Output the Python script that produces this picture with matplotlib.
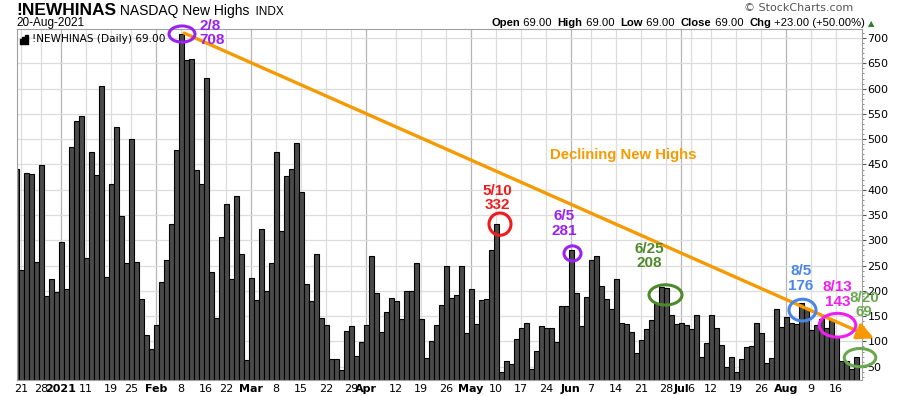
import numpy as np
import pandas as pd
import matplotlib
matplotlib.use('Agg')
import matplotlib.pyplot as plt
from matplotlib.patches import Ellipse, Rectangle

# NASDAQ new highs, daily values (Dec 18 2020 - Aug 20 2021)
dec = [442, 241, 433, 431, 258, 448, 189, 223, 197]
jan = [296, 203, 484, 537, 545, 266, 474, 429, 606, 227, 411, 524, 349, 256,
       500, 258, 183, 112, 86]
feb = [132, 217, 262, 332, 478, 708, 656, 658, 440, 411, 621, 237, 146, 306,
       371, 223, 387, 272, 63]
mar = [226, 181, 322, 199, 256, 474, 319, 427, 441, 492, 395, 213, 179, 272,
       146, 132, 66, 66, 43, 120, 130, 72, 98]
apr = [132, 268, 195, 118, 159, 185, 179, 144, 199, 199, 256, 144, 68, 100,
       132, 173, 249, 185, 191, 249, 116]
may = [203, 134, 181, 183, 281, 332, 39, 61, 55, 104, 126, 136, 45, 82, 130,
       126, 126, 98, 171, 171]
jun = [281, 195, 130, 187, 262, 268, 209, 183, 165, 223, 136, 134, 118, 78,
       102, 124, 142, 175, 208, 205, 153, 135]
jul = [137, 132, 125, 153, 70, 97, 153, 127, 93, 50, 69, 40, 65, 89, 91, 137,
       116, 58, 68, 165, 128]
aug = [148, 136, 134, 176, 166, 122, 132, 144, 126, 143, 110, 62, 62, 46, 69]

holidays = ['2020-12-25', '2021-01-01', '2021-01-18', '2021-02-15',
            '2021-04-02', '2021-05-31', '2021-07-05']

# call-outs: (date, text, color)
callouts = [('2021-02-08', '2/8\n708', '#9b22ee'),
            ('2021-05-10', '5/10\n332', '#ee1c1c'),
            ('2021-06-01', '6/5\n281', '#9b22ee'),
            ('2021-06-25', '6/25\n208', '#4e8a2c'),
            ('2021-08-05', '8/5\n176', '#4a86e8'),
            ('2021-08-13', '8/13\n143', '#f01ef0'),
            ('2021-08-20', '8/20\n69', '#6aa84f')]

values = np.array(dec + jan + feb + mar + apr + may + jun + jul + aug)
dates = pd.bdate_range('2020-12-18', '2021-08-20', freq='C',
                       holidays=holidays)
x = np.arange(len(dates))

fig = plt.figure(figsize=(9, 3.96), dpi=100)
ax = fig.add_axes([17 / 900, 16 / 396, 845 / 900, 351 / 396])

# tick positions: week starts and month starts
ticks, labels, bold, month_lines = [], [], [], []
for i in range(1, len(dates)):
    d, p = dates[i], dates[i - 1]
    if d.month != p.month:
        month_lines.append(i)
        ticks.append(i)
        labels.append(str(d.year) if d.month == 1 else d.strftime('%b'))
        bold.append(True)
    elif d.weekday() < p.weekday():
        if month_lines and i - month_lines[-1] < 2:
            continue
        ticks.append(i)
        labels.append(str(d.day))
        bold.append(False)

for t in ticks:
    ax.axvline(t, color='#b5b5b5' if t in month_lines else '#dcdcdc',
               lw=0.9, zorder=0)
for v in range(50, 701, 50):
    ax.axhline(v, color='#dcdcdc', lw=0.9, zorder=0)

ax.bar(x, values, width=1.0, color='#4a4a4a', edgecolor='black',
       linewidth=0.8, zorder=2)

ax.set_xlim(0.2, 169.2)
ax.set_ylim(23.7, 718)
ax.yaxis.tick_right()
ax.set_yticks(range(50, 701, 50))
ax.set_yticks(range(30, 711, 10), minor=True)
ax.tick_params(axis='y', which='major', length=3, labelsize=8, pad=1,
               colors='#555555', labelcolor='black')
ax.tick_params(axis='y', which='minor', length=1.5, colors='#777777')
ax.set_xticks(ticks)
ax.set_xticklabels(labels, fontsize=8)
for lab, b in zip(ax.get_xticklabels(), bold):
    if b:
        lab.set_fontweight('bold')
ax.tick_params(axis='x', length=0, pad=3)
for s in ax.spines.values():
    s.set_color('#a0a0a0')
    s.set_linewidth(0.8)

# declining trend line
i0 = list(dates).index(pd.Timestamp('2021-02-08'))
ax.annotate('', xy=(len(dates) + 2.6, 106), xytext=(i0 + 0.6, 710),
            arrowprops=dict(arrowstyle='-|>,head_length=1.0,head_width=0.5',
                            color='#f59a00', lw=2.4, shrinkA=0, shrinkB=0),
            annotation_clip=False, zorder=4)
ax.text(106.8, 469, 'Declining New Highs', color='#f59a00', fontsize=10.7,
        fontweight='bold', family='Liberation Sans', va='center')

# (text dx, text dy, ellipse dx, ellipse dy, width, height, text x shift)
layout = {'2021-02-08': (0.2, 0, 0.2, 0, 5.2, 32, 3.6),
          '2021-05-10': (0.8, 52, 0.8, 0, 4.4, 44, -0.6),
          '2021-06-01': (0.3, 52, 0.3, -7, 3.4, 30, -1.6),
          '2021-06-25': (0.9, 61, 0.9, -16, 6.6, 40, -3.2),
          '2021-08-05': (0.3, 49, 0.3, -14, 5.4, 43, -0.3),
          '2021-08-13': (1.3, 50, 1.3, -11, 7.3, 47, 0.0),
          '2021-08-20': (0.8, 103, 0.8, -1, 6.3, 36, 0.8)}
for d, txt, col in callouts:
    i = list(dates).index(pd.Timestamp(d))
    v = values[i]
    tdx, tdy, edx, edy, w, h, sx = layout[d]
    ax.add_patch(Ellipse((i + edx, v + edy), w, h, fill=False, ec=col,
                         lw=2.2, zorder=5, clip_on=False))
    if d == '2021-02-08':
        ax.text(i + sx, v + 2, txt, color=col, fontsize=11, fontweight='bold',
                family='Liberation Sans', va='center', ha='left',
                linespacing=1.05, zorder=6)
    else:
        ax.text(i + tdx + sx, v + tdy, txt, color=col, fontsize=11,
                fontweight='bold', family='Liberation Sans', va='center',
                ha='center', linespacing=1.05, zorder=6, clip_on=False)

# inner legend
ax.text(0.018, 0.985, '!NEWHINAS (Daily) 69.00', transform=ax.transAxes,
        fontsize=7.6, va='top', ha='left', zorder=6)
for k, hgt in enumerate([0.55, 0.8, 1.0]):
    ax.add_patch(Rectangle((0.003 + k * 0.0035, 0.958), 0.0027, 0.024 * hgt,
                           transform=ax.transAxes, color='black', zorder=6))

# header
renderer = fig.canvas.get_renderer()


def chain(x0, y0, parts):
    xx = x0
    for s, wt, size in parts:
        t = fig.text(xx, y0, s, fontsize=size, fontweight=wt,
                     family='Liberation Sans', va='baseline')
        xx += t.get_window_extent(renderer).width / 900
    return xx


chain(16 / 900, 1 - 15 / 396, [('!NEWHINAS', 'bold', 12.5),
                               (' NASDAQ New Highs', 'normal', 10),
                               ('  INDX', 'normal', 8.5)])
fig.text(16 / 900, 1 - 26 / 396, '20-Aug-2021', fontsize=8.5,
         family='Liberation Sans', va='baseline')
fig.text(853 / 900, 1 - 11 / 396, '\u00a9 StockCharts.com', fontsize=8,
         color='#555555', family='DejaVu Sans', ha='right', va='baseline')
fs = 8.1
end = chain(491 / 900, 1 - 26 / 396, [('Open', 'bold', fs), (' 69.00  ', 'normal', fs),
                                      ('High', 'bold', fs), (' 69.00  ', 'normal', fs),
                                      ('Low', 'bold', fs), (' 69.00  ', 'normal', fs),
                                      ('Close', 'bold', fs), (' 69.00  ', 'normal', fs),
                                      ('Chg', 'bold', fs),
                                      (' +23.00 (+50.00%) ', 'normal', fs)])
fig.text(end, 1 - 26 / 396, '\u25b2', fontsize=6, color='#2e7d32',
         ha='left', va='baseline')

fig.savefig('out.png', dpi=100)
